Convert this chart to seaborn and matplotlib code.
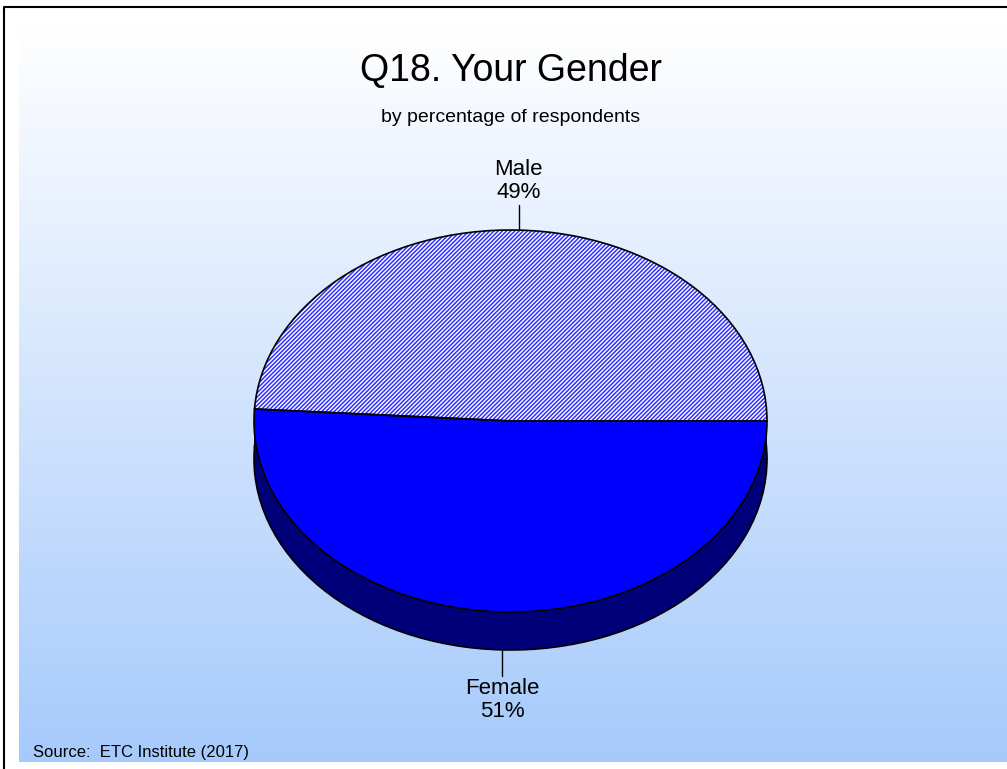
"""Q18 gender pie, drawn as a tilted 3D-style pie."""

import matplotlib
matplotlib.use("Agg")
import matplotlib.pyplot as plt
import numpy as np
import seaborn as sns
from matplotlib.patches import Rectangle

# data
labels = ["Male", "Female"]
shares = [49, 51]
title = "Q18. Your Gender"
subtitle = "by percentage of respondents"
source = "Source:  ETC Institute (2017)"

sns.set_theme(style="white")
plt.rcParams["font.family"] = ["Liberation Sans", "DejaVu Sans"]
plt.rcParams["text.color"] = "black"
plt.rcParams["hatch.linewidth"] = 1.1

W, H = 1007, 769
fig = plt.figure(figsize=(W / 100, H / 100), dpi=100)

# background: white page, gradient panel, black frame on left/top
bg = fig.add_axes([0, 0, 1, 1])
bg.set_xlim(0, W)
bg.set_ylim(H, 0)
bg.axis("off")
top_rgb = np.array([1.0, 1.0, 1.0])
bot_rgb = np.array([0xA6, 0xCA, 0xFC]) / 255
t = np.linspace(0, 1, 256)[:, None, None]
grad = top_rgb * (1 - t) + bot_rgb * t
bg.imshow(grad, extent=(19, W, 762, 22), aspect="auto", zorder=0)
bg.plot([4, 4, W], [H, 7, 7], color="black", lw=1.5, zorder=1)

bg.text(511, 71, title, ha="center", va="center", fontsize=27)
bg.text(511, 117, subtitle, ha="center", va="center", fontsize=14)
bg.text(33, 753, source, ha="left", va="center", fontsize=12)

# pie geometry (pixels)
cx, cy, rx, ry, depth = 510.5, 421, 256.5, 191, 38
top_box = [(cx - rx) / W, (H - cy - ry) / H, 2 * rx / W, 2 * ry / H]
side_box = [top_box[0], top_box[1] - depth / H, top_box[2], top_box[3]]
d = depth / ry

navy = "#000078"
blue = "#0000FF"

# side (extruded rim)
ax_side = fig.add_axes(side_box)
ax_side.pie(shares, colors=[navy, navy], startangle=0, counterclock=True,
            wedgeprops=dict(edgecolor="black", linewidth=1.2))
ax_side.add_patch(Rectangle((-1, 0), 2, d, facecolor=navy, edgecolor="none", zorder=3))
ax_side.vlines([-1, 1], 0, d, color="black", lw=1.2, zorder=4)

# top face
ax_top = fig.add_axes(top_box)
wedges, _ = ax_top.pie(shares, colors=["white", blue], startangle=0,
                       counterclock=True, wedgeprops=dict(linewidth=0))
wedges[0].set_hatch("////////")
wedges[0].set_edgecolor("#3030FF")
wedges[0].set_linewidth(0)
ax_top.pie(shares, colors=["none", "none"], startangle=0, counterclock=True,
           wedgeprops=dict(edgecolor="black", linewidth=1.2))

for ax in (ax_side, ax_top):
    ax.set_aspect("auto")
    ax.set_xlim(-1, 1)
    ax.set_ylim(-1, 1)
    ax.patch.set_alpha(0)
    ax.axis("off")

# leader lines and labels
angles = np.cumsum([0] + shares) / sum(shares) * 360
mids = np.deg2rad((angles[:-1] + angles[1:]) / 2)
for lab, val, a in zip(labels, shares, mids):
    x, y = np.cos(a), np.sin(a)
    txt = f"{lab}\n{val}%"
    if y > 0:
        ax_top.plot([x, x], [y, y + 25 / ry], color="black", lw=1, clip_on=False)
        ax_top.text(x, y + 27 / ry, txt, ha="center", va="bottom", fontsize=16,
                    linespacing=1.1, clip_on=False)
    else:
        ax_side.plot([x, x], [y, y - 26 / ry], color="black", lw=1, clip_on=False)
        ax_side.text(x, y - 28 / ry, txt, ha="center", va="top", fontsize=16,
                     linespacing=1.1, clip_on=False)

fig.savefig("out.png", dpi=100)
